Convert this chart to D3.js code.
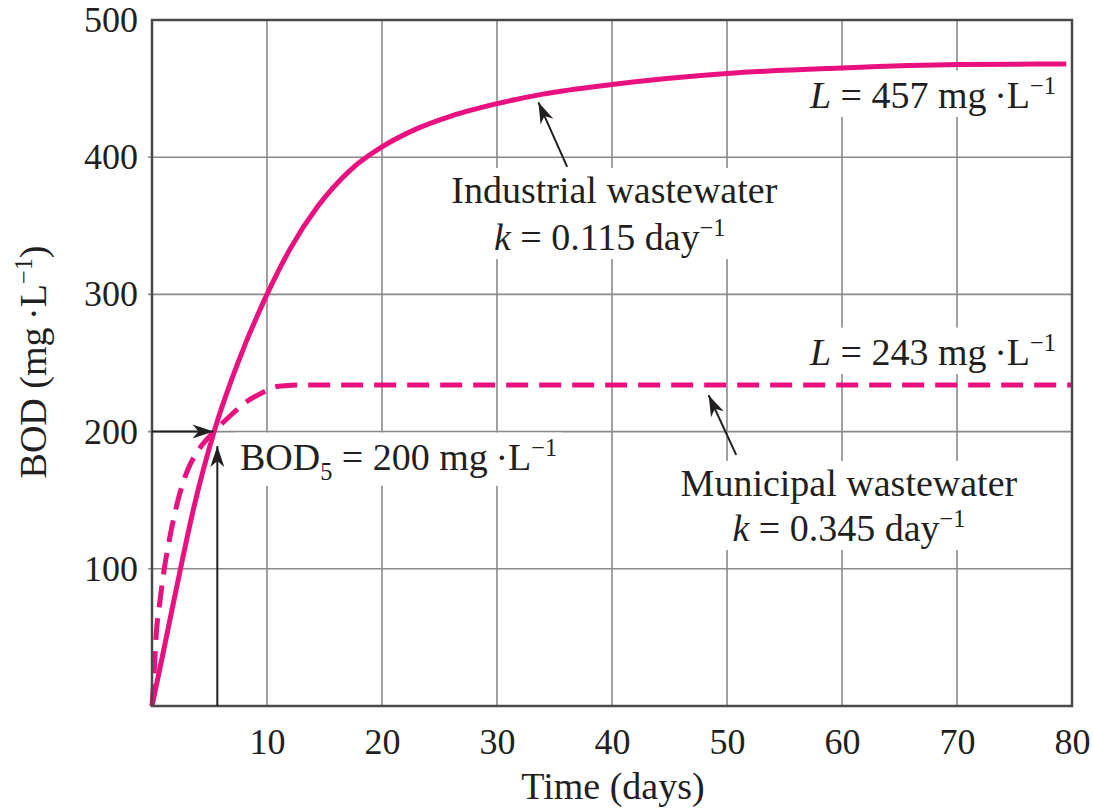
<!DOCTYPE html>
<html>
<head>
<meta charset="utf-8">
<script src="https://cdn.jsdelivr.net/npm/d3@7"></script>
<style>
  body { margin: 0; background: #fff; }
  svg { display: block; }
  text { font-family: "Liberation Serif", "Times New Roman", serif; fill: #231f20; }
</style>
</head>
<body>
<svg id="chart" width="1093" height="811"></svg>
<script>
// ---- data ----
const industrialDays = [0, 1, 2.4, 3.7, 5.4, 7.6, 10, 12, 14.4, 17.3, 20.1, 23.1, 26, 30, 34, 40, 50, 60, 70, 79.5];
const industrialBOD  = [0, 40, 97, 147, 200, 253, 300, 333, 364, 391, 408, 421, 430, 439, 446, 453, 461, 465, 467.5, 468];

const municipalDays = [0, 0.2, 0.35, 0.67, 1.05, 1.55, 2.2, 3.1, 4.0, 5.4, 7, 8.1, 9.5, 11, 13, 80];
const municipalBOD  = [0, 26, 50, 75, 99, 123, 148, 172, 186, 200, 213, 221, 228, 233, 234, 234];

const xTicks = [10, 20, 30, 40, 50, 60, 70, 80];
const yTicks = [100, 200, 300, 400, 500];
const bod5 = 200;
const bod5Day = 5.35;

const pink = '#e8117f';
const fs = 38;     // annotation and title size
const tickFs = 36;

const svg = d3.select('#chart');
const margin = { top: 20, right: 21, bottom: 105, left: 152 };
const width = 1093 - margin.left - margin.right;
const height = 811 - margin.top - margin.bottom;

const x = d3.scaleLinear().domain([0, 80]).range([margin.left, margin.left + width]);
const y = d3.scaleLinear().domain([0, 500]).range([margin.top + height, margin.top]);

/* ------------ grid ------------ */
const grid = svg.append('g').attr('class', 'grid');
grid.selectAll('.vgrid')
  .data(xTicks.slice(0, -1))
  .join('line')
  .attr('x1', d => x(d)).attr('x2', d => x(d))
  .attr('y1', y(0)).attr('y2', y(500))
  .attr('stroke', '#8a8a8a').attr('stroke-width', 1.6);
grid.selectAll('.hgrid')
  .data(yTicks.slice(0, -1))
  .join('line')
  .attr('x1', x(0) - 4).attr('x2', x(80))
  .attr('y1', d => y(d)).attr('y2', d => y(d))
  .attr('stroke', '#8a8a8a').attr('stroke-width', 1.6);

/* ------------ axes ------------ */
const xAxis = svg.append('g')
  .attr('transform', `translate(0,${y(0)})`)
  .call(d3.axisBottom(x).tickValues(xTicks).tickSize(0).tickPadding(22));
const yAxis = svg.append('g')
  .attr('transform', `translate(${x(0)},0)`)
  .call(d3.axisLeft(y).tickValues(yTicks).tickSize(0).tickPadding(14));
[xAxis, yAxis].forEach(a => {
  a.select('.domain').remove();
  a.selectAll('text')
    .attr('font-family', '"Liberation Serif", "Times New Roman", serif')
    .attr('font-size', tickFs)
    .attr('fill', '#231f20');
});
xAxis.selectAll('text').attr('dy', '0.71em');

// rich text helper: parts = [{t, it, sup, sub}]
const rich = (sel, parts) => {
  let shift = 0;
  parts.forEach(p => {
    const target = p.sup ? -0.38 * fs : p.sub ? 0.26 * fs : 0;
    const ts = sel.append('tspan').text(p.t).attr('dy', target - shift);
    if (p.it) ts.attr('font-style', 'italic');
    if (p.sup || p.sub) ts.attr('font-size', fs * 0.64);
    shift = target;
  });
  return sel;
};

svg.append('text')
  .attr('x', (x(0) + x(80)) / 2 + 1)
  .attr('y', 799)
  .attr('text-anchor', 'middle')
  .attr('font-size', fs)
  .text('Time (days)');

rich(svg.append('text')
  .attr('transform', `translate(46,362) rotate(-90)`)
  .attr('text-anchor', 'middle')
  .attr('font-size', fs),
  [{ t: 'BOD (mg\u2009\u00b7L' }, { t: '\u22121', sup: true }, { t: ')' }]);

/* ------------ annotations (white boxed) ------------ */
const notes = svg.append('g').attr('class', 'notes');
const addNote = (lines, anchor) => {
  const g = notes.append('g');
  const bg = g.append('rect').attr('fill', '#fff');
  lines.forEach(l => {
    rich(g.append('text')
      .attr('x', l.x).attr('y', l.y)
      .attr('text-anchor', anchor)
      .attr('font-size', fs), l.parts);
  });
  const bb = g.node().getBBox();
  bg.attr('x', bb.x - 5).attr('y', bb.y - 1)
    .attr('width', bb.width + 10).attr('height', bb.height + 2);
};

const unitParts = (n) => [
  { t: 'L', it: true }, { t: ` = ${n} mg\u2009\u00b7L` }, { t: '\u22121', sup: true }
];

addNote([{ x: x(78.6), y: 108, parts: unitParts(457) }], 'end');
addNote([{ x: x(78.6), y: 365, parts: unitParts(243) }], 'end');
addNote([
  { x: x(40.2), y: 203, parts: [{ t: 'Industrial wastewater' }] },
  { x: x(39.8), y: 250, parts: [{ t: 'k', it: true }, { t: ' = 0.115 day' }, { t: '\u22121', sup: true }] }
], 'middle');
addNote([
  { x: x(60.6), y: 496, parts: [{ t: 'Municipal wastewater' }] },
  { x: x(60.6), y: 541, parts: [{ t: 'k', it: true }, { t: ' = 0.345 day' }, { t: '\u22121', sup: true }] }
], 'middle');
addNote([
  { x: x(7.65), y: 470, parts: [{ t: 'BOD' }, { t: '5', sub: true }, { t: ' = 200 mg\u2009\u00b7L' }, { t: '\u22121', sup: true }] }
], 'start');

/* ------------ curves ------------ */
const line = d3.line()
  .x(d => x(d[0]))
  .y(d => y(d[1]))
  .curve(d3.curveMonotoneX);

svg.append('path')
  .datum(industrialDays.map((d, i) => [d, industrialBOD[i]]))
  .attr('d', line)
  .attr('fill', 'none')
  .attr('stroke', pink)
  .attr('stroke-width', 5);

svg.append('path')
  .datum(municipalDays.map((d, i) => [d, municipalBOD[i]]))
  .attr('d', line)
  .attr('fill', 'none')
  .attr('stroke', pink)
  .attr('stroke-width', 5)
  .attr('stroke-dasharray', '22 11');

/* ------------ frame ------------ */
svg.append('rect')
  .attr('x', x(0)).attr('y', y(500))
  .attr('width', x(80) - x(0)).attr('height', y(0) - y(500))
  .attr('fill', 'none')
  .attr('stroke', '#4a4a4a')
  .attr('stroke-width', 2.5);

/* ------------ arrows ------------ */
svg.append('defs').append('marker')
  .attr('id', 'head')
  .attr('viewBox', '-22 -8 24 16')
  .attr('refX', 0).attr('refY', 0)
  .attr('markerWidth', 24).attr('markerHeight', 16)
  .attr('markerUnits', 'userSpaceOnUse')
  .attr('orient', 'auto')
  .append('path')
  .attr('d', 'M0,0 L-21,-7 L-15,0 L-21,7 Z')
  .attr('fill', '#231f20');

const arrow = (x1, y1, x2, y2) => {
  svg.append('line')
    .attr('x1', x(x1)).attr('y1', y(y1))
    .attr('x2', x(x2)).attr('y2', y(y2))
    .attr('stroke', '#231f20')
    .attr('stroke-width', 2)
    .attr('marker-end', 'url(#head)');
};

arrow(0, bod5, bod5Day, bod5);
arrow(5.68, 0, 5.68, 189.5);
arrow(36.1, 393, 33.6, 440);
arrow(50.8, 183, 48.4, 226.5);
</script>
</body>
</html>
